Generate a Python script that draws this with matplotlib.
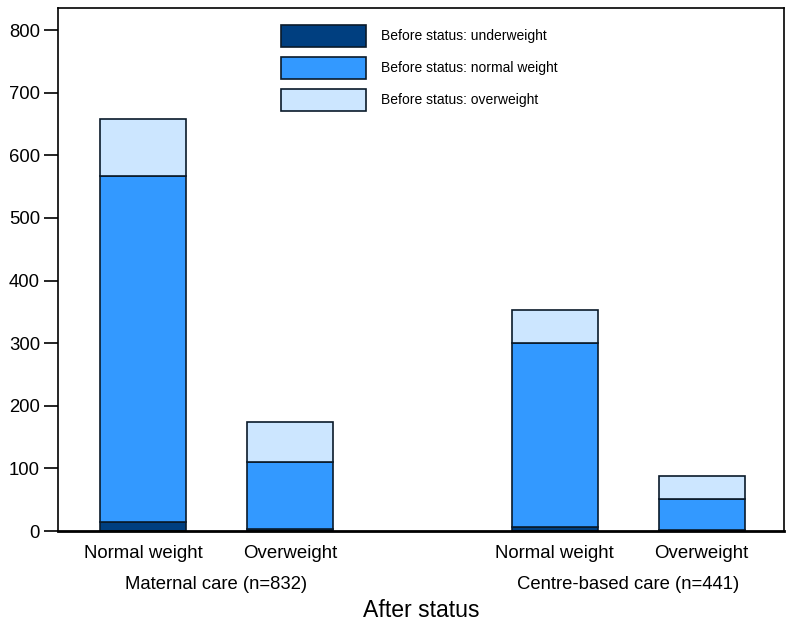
import matplotlib
matplotlib.use("Agg")
import matplotlib.pyplot as plt
import numpy as np

plt.rcParams['font.family'] = ['Liberation Sans', 'DejaVu Sans']

# after-status bars, grouped by care type
bar_labels = ["Normal weight", "Overweight", "Normal weight", "Overweight"]
groups = ["Maternal care (n=832)", "Centre-based care (n=441)"]
before_under = [15, 4, 7, 1]
before_normal = [552, 107, 293, 50]
before_over = [91, 63, 53, 37]
series_names = ["Before status: underweight", "Before status: normal weight",
                "Before status: overweight"]
colors = ["#003f80", "#3399ff", "#cce6ff"]

pos = np.array([0, 1, 2.8, 3.8])
w = 0.585

fig = plt.figure(figsize=(7.96, 6.24), dpi=100)
ax = fig.add_axes([0.0729, 0.149, 0.9121, 0.838])

bottom = np.zeros(4)
for vals, name, c in zip([before_under, before_normal, before_over], series_names, colors):
    ax.bar(pos, vals, w, bottom=bottom, color=c, edgecolor="#0a1a2a", linewidth=1.2, label=name)
    bottom += np.array(vals)

ax.set_xlim(-0.578, 4.36)
ax.set_ylim(0, 835)
ax.set_yticks(np.arange(0, 801, 100))
ax.tick_params(axis='y', direction='out', length=10, width=1.2, labelsize=13.3, pad=3)
ax.set_xticks(pos)
ax.set_xticklabels(bar_labels, fontsize=13.4)
ax.tick_params(axis='x', length=0, pad=10)
for s in ax.spines.values():
    s.set_linewidth(1.2)
ax.spines['bottom'].set_linewidth(2)

for gx, g in zip([(pos[0] + pos[1]) / 2, (pos[2] + pos[3]) / 2], groups):
    ax.text(gx, -0.102, g, transform=ax.get_xaxis_transform(), ha='center', va='center', fontsize=13.3)
fig.text(0.529, 0.022, "After status", ha='center', va='center', fontsize=16.6)

ax.legend(loc='upper left', bbox_to_anchor=(281 / 796, 1 - 25 / 624), bbox_transform=fig.transFigure,
          frameon=False, fontsize=10, handlelength=6.1, handleheight=2.05, labelspacing=0.72,
          handletextpad=1.08, borderpad=0, borderaxespad=0)

fig.savefig("out.png", dpi=100)
